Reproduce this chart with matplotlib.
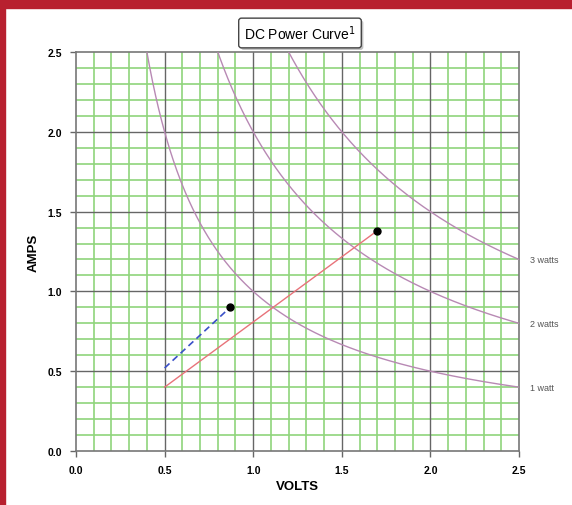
import numpy as np
import matplotlib
matplotlib.use("Agg")
import matplotlib.pyplot as plt
import matplotlib.patheffects as pe
from matplotlib.patches import Rectangle

plt.rcParams['font.family'] = ['Liberation Sans', 'DejaVu Sans']

# power curves (watts) and their labels
watts = [1, 2, 3]
watt_labels = ['1 watt', '2 watts', '3 watts']

# operating lines
red_v = [0.5, 1.7]
red_a = [0.4, 1.38]
blue_v = [0.5, 0.87]
blue_a = [0.52, 0.9]

ticks = [0.0, 0.5, 1.0, 1.5, 2.0, 2.5]
tick_labels = ['0.0', '0.5', '1.0', '1.5', '2.0', '2.5']

fig = plt.figure(figsize=(5.72, 5.06), dpi=100)
fig.patch.set_facecolor('white')

# red frame on top and left
fig.patches.append(Rectangle((0, 1 - 9 / 506), 1, 9 / 506, transform=fig.transFigure,
                             color='#b8202f', zorder=0))
fig.patches.append(Rectangle((0, 0), 5 / 572, 1, transform=fig.transFigure,
                             color='#b8202f', zorder=0))

ax = fig.add_axes([76 / 572, 1 - 452 / 506, 443 / 572, 399 / 506])

# grid
for g in np.arange(0.1, 2.5, 0.1):
    if abs(g * 2 - round(g * 2)) < 1e-6:
        continue
    ax.axvline(g, color='#8fd47c', lw=1.2, zorder=1)
    ax.axhline(g, color='#8fd47c', lw=1.2, zorder=1)
for g in [0.5, 1.0, 1.5, 2.0]:
    ax.axvline(g, color='#666666', lw=1.0, zorder=2)
    ax.axhline(g, color='#666666', lw=1.0, zorder=2)

v = np.linspace(0.3, 2.5, 400)
for w, lab in zip(watts, watt_labels):
    ax.plot(v, w / v, color='#b889b4', lw=1.0, zorder=3)
    ax.text(2.56, w / 2.5, lab, fontsize=6.5, color='#555555', va='center', ha='left',
            clip_on=False)

ax.plot(red_v, red_a, color='#e8737a', lw=1.0, zorder=4)
ax.plot(blue_v, blue_a, color='#3a50c8', lw=1.2, ls=(0, (4, 2.5)), zorder=4)
ax.plot([red_v[-1]], [red_a[-1]], 'o', color='black', ms=5, zorder=5)
ax.plot([blue_v[-1]], [blue_a[-1]], 'o', color='black', ms=5, zorder=5)

ax.set_xlim(0, 2.5)
ax.set_ylim(0, 2.5)
ax.set_xticks(ticks)
ax.set_yticks(ticks)
ax.set_xticklabels(tick_labels, fontsize=7.5, fontweight='bold')
ax.set_yticklabels(tick_labels, fontsize=7.5, fontweight='bold')
ax.tick_params(direction='out', length=4, width=1, color='#666666', pad=6)
for s in ax.spines.values():
    s.set_color('#777777')
    s.set_linewidth(1.2)

ax.set_xlabel('VOLTS', fontsize=9.5, fontweight='bold', labelpad=4)
ax.set_ylabel('AMPS', fontsize=9.5, fontweight='bold', labelpad=6)

# title box with a soft shadow
t = fig.text(300 / 572, 1 - 34 / 506, 'DC Power Curve$^{1}$', fontsize=10, ha='center', va='center',
             bbox=dict(boxstyle='round,pad=0.4,rounding_size=0.2', fc='white', ec='#444444', lw=1))
t.get_bbox_patch().set_path_effects([pe.withSimplePatchShadow(offset=(1.5, -1.5),
                                                              shadow_rgbFace='#999999', alpha=0.6)])

fig.savefig('out.png', dpi=100)
